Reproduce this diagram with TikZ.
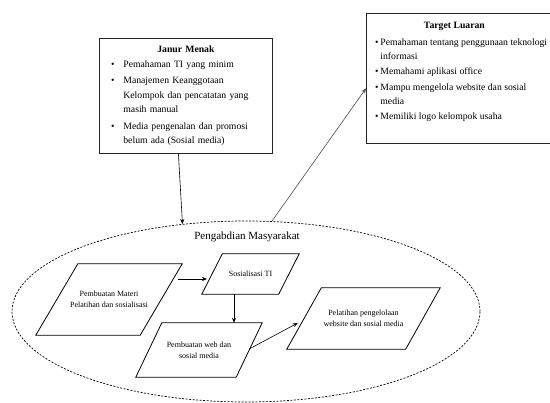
\documentclass[tikz,border=0pt]{standalone}
\usepackage{fontspec}
\setmainfont{Liberation Serif}
\usepackage{enumitem}
\usetikzlibrary{shapes.geometric,arrows.meta}
\newcommand\myparal[2]{\draw[line width=0.8pt] (#1.south west) -- ([xshift=#2]#1.north west) -- (#1.north east) -- ([xshift=-#2]#1.south east) -- cycle;}
\begin{document}
\begin{tikzpicture}[x=1pt,y=-1pt,
  box/.style={draw=black!85, line width=0.8pt},
  para/.style={rectangle, inner sep=0pt, align=center, font=\fontsize{8}{11}\selectfont},
  arr/.style={-{Stealth[length=5pt,width=4pt]}, line width=0.6pt}]
\useasboundingbox (0,0) rectangle (550,403);

% outer ellipse
\node[draw, ellipse, dash pattern=on 2pt off 1.5pt, line width=0.7pt,
      minimum width=468pt, minimum height=181pt, inner sep=0pt] (pm) at (246,311.5) {};
\node[font=\fontsize{11}{13}\selectfont] (pmlabel) at (247,237) {Pengabdian Masyarakat};

% parallelograms
\node[para, minimum width=146pt, minimum height=71pt] (p1) at (109,299.5) {Pembuatan Materi\\Pelatihan dan sosialisasi};
\node[para, minimum width=97pt, minimum height=40pt] (p2) at (250.5,274) {Sosialisasi TI};
\node[para, minimum width=126pt, minimum height=54pt] (p3) at (199,350) {Pembuatan web dan\\sosial media};
\node[para, minimum width=153pt, minimum height=61pt] (p4) at (363.5,318.5) {Pelatihan pengelolaan\\website dan sosial media};
\myparal{p1}{42pt}
\myparal{p2}{20.5pt}
\myparal{p3}{26pt}
\myparal{p4}{34.5pt}

% Janur Menak box
\node[box, anchor=north west, minimum width=173pt, minimum height=115pt, text width=165pt,
      inner xsep=4pt, inner ysep=0pt, font=\fontsize{9.7}{14.5}\selectfont] (jm) at (99,38)
 {\makebox[\linewidth]{\textbf{Janur Menak}}\par\raggedright
  \begin{itemize}[leftmargin=20pt,labelsep=9pt,itemsep=2pt,topsep=0pt,parsep=0pt,partopsep=0pt]
  \item Pemahaman TI yang minim
  \item Manajemen Keanggotaan\newline Kelompok dan pencatatan yang\newline masih manual
  \item Media pengenalan dan promosi\newline belum ada (Sosial media)
  \end{itemize}};

% Target Luaran box
\node[box, anchor=north west, inner xsep=3pt, inner ysep=4.5pt, font=\fontsize{9.7}{14}\selectfont] (tl) at (366,13)
 {\begin{minipage}[t][121pt][t]{180pt}\raggedright
  \vspace*{4pt}
  \makebox[\linewidth]{\hspace*{-10pt}\textbf{Target Luaran}}\par\vspace{3pt}
  \begin{itemize}[leftmargin=11pt,labelsep=2pt,itemsep=1.5pt,topsep=0pt,parsep=0pt,partopsep=0pt]
  \item Pemahaman tentang penggunaan teknologi\newline informasi
  \item Memahami aplikasi office
  \item Mampu mengelola website dan sosial\newline media
  \item Memiliki logo kelompok usaha
  \end{itemize}
  \end{minipage}};

% connectors
\draw[arr] ([shift={(-7.5,0)}]jm.south) -- (pm.126.3);
\draw[arr, draw=black!70] (pm.74) -- ([shift={(0,10)}]tl.west);
\draw[arr] ([shift={(69,-20.5)}]p1.center) -- ([shift={(-43.5,5)}]p2.center);
\draw[arr] ([xshift=-16.5pt]p2.south) -- ([xshift=-16.5pt]p2.south |- p3.north);
\draw[arr] ([shift={(-13,-1)}]p3.east) -- ([shift={(11,4.5)}]p4.west);
\end{tikzpicture}
\end{document}
